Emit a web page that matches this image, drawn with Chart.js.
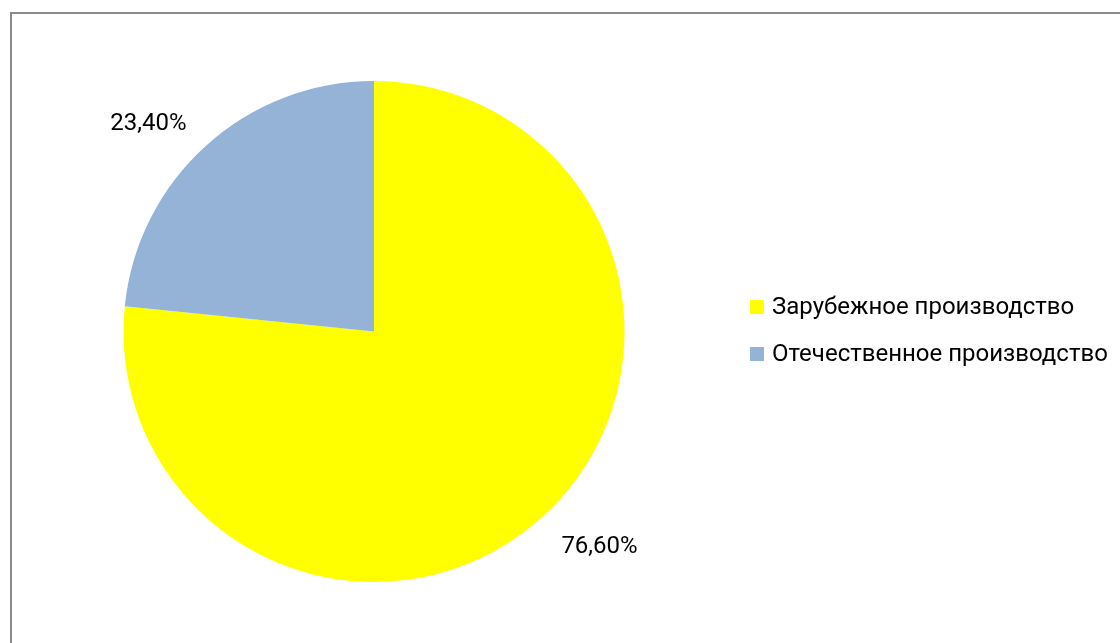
<!DOCTYPE html>
<html lang="ru">
<head>
<meta charset="utf-8">
<title>Производство</title>
<script src="https://cdn.jsdelivr.net/npm/chart.js@4/dist/chart.umd.min.js"></script>
<style>
  html, body { margin: 0; padding: 0; background: #fff; overflow: hidden; }
  #wrap { position: relative; width: 1120px; height: 643px; }
  #frame {
    position: absolute; left: 10px; top: 12px; width: 1200px; height: 700px;
    border: 2px solid #8a8a8a; box-sizing: border-box;
  }
  #pie { position: absolute; left: 0; top: 0; }
</style>
</head>
<body>
<div id="wrap">
  <div id="frame"></div>
  <canvas id="pie" width="1120" height="643"></canvas>
</div>
<script>
const categories = ['Зарубежное производство', 'Отечественное производство'];
const shares = [76.6, 23.4];
const sliceColors = ['#FFFF00', '#95B3D7'];

const FONT = '24px Roboto, "Noto Sans", sans-serif';

const fmtPct = (v) => v.toFixed(2).replace('.', ',') + '%';

// value labels sit just outside each slice, pushed away along the mid angle
const outsideLabels = {
  id: 'outsideLabels',
  afterDatasetsDraw(chart) {
    const ctx = chart.ctx;
    const arcs = chart.getDatasetMeta(0).data;
    ctx.save();
    ctx.font = FONT;
    ctx.fillStyle = '#000';
    ctx.textAlign = 'center';
    ctx.textBaseline = 'middle';
    arcs.forEach((arc, i) => {
      const { x, y, startAngle, endAngle, outerRadius } = arc.getProps(['x', 'y', 'startAngle', 'endAngle', 'outerRadius'], true);
      const mid = (startAngle + endAngle) / 2;
      const ux = Math.cos(mid), uy = Math.sin(mid);
      const text = fmtPct(shares[i]);
      const w = ctx.measureText(text).width;
      const ax = x + (outerRadius + 11) * ux;
      const ay = y + (outerRadius + 11) * uy;
      const lx = ax + Math.sign(ux) * (w / 2 + 12);
      const ly = ay + Math.sign(uy) * 18 + 4;
      ctx.fillText(text, lx, ly);
    });
    ctx.restore();
  }
};

// legend on the right: square swatch + category name
const sideLegend = {
  id: 'sideLegend',
  afterDraw(chart) {
    const ctx = chart.ctx;
    const rows = [307, 354];
    ctx.save();
    ctx.font = FONT;
    ctx.textAlign = 'left';
    ctx.textBaseline = 'middle';
    categories.forEach((name, i) => {
      const cy = rows[i];
      ctx.fillStyle = sliceColors[i];
      ctx.fillRect(750, cy - 7, 14, 14);
      ctx.fillStyle = '#000';
      ctx.fillText(name, 772, cy + 1);
    });
    ctx.restore();
  }
};

new Chart(document.getElementById('pie').getContext('2d'), {
  type: 'pie',
  data: {
    labels: categories,
    datasets: [{
      data: shares,
      backgroundColor: sliceColors,
      borderWidth: 0
    }]
  },
  options: {
    responsive: false,
    animation: false,
    layout: { padding: { left: 123, right: 495, top: 81, bottom: 61 } },
    plugins: { legend: { display: false }, tooltip: { enabled: false } }
  },
  plugins: [outsideLabels, sideLegend]
});
</script>
</body>
</html>
